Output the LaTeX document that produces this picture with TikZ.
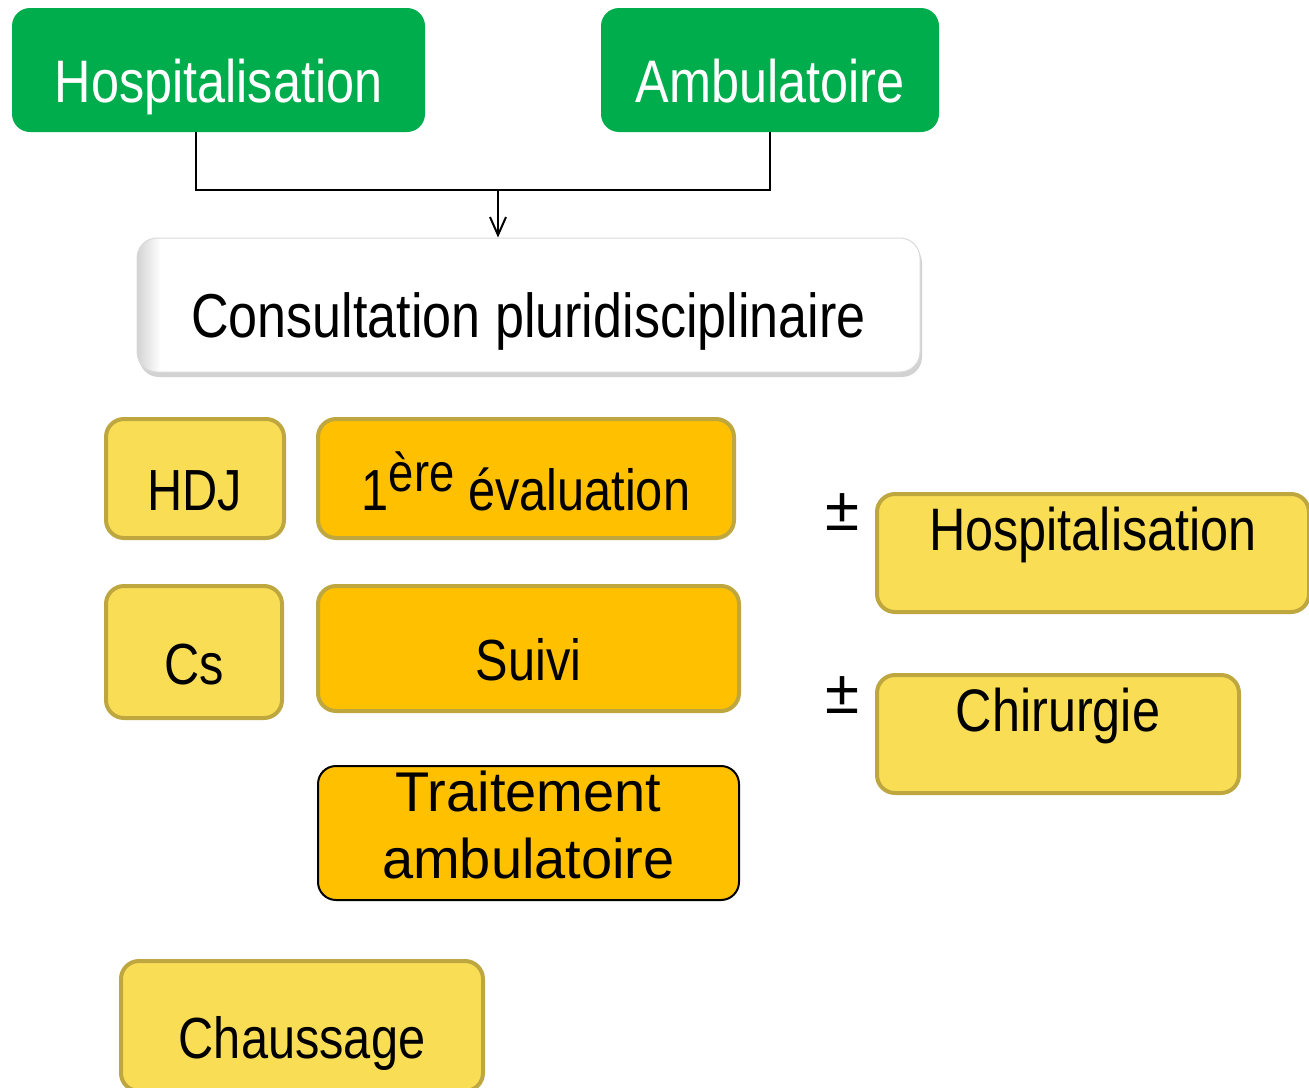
\documentclass[tikz,border=0pt]{standalone}
\usepackage{fontspec}
\setmainfont{Liberation Sans}
\newfontfamily\narrowfont[FakeStretch=0.84]{Liberation Sans}
\usetikzlibrary{arrows.meta, shadows, positioning}

\definecolor{boxgreen}{RGB}{0,173,77}
\definecolor{paleyellow}{RGB}{249,222,85}
\definecolor{deepyellow}{RGB}{255,192,0}
\definecolor{olive}{RGB}{191,167,64}
\pgfdeclarehorizontalshading{edgeshade}{100bp}{color(0bp)=(gray!35); color(25bp)=(gray!35); color(26.5bp)=(white); color(100bp)=(white)}

\begin{document}
\begin{tikzpicture}[x=1pt, y=-1pt,
    greenbox/.style={fill=boxgreen, text=white, rounded corners=18pt, inner sep=0pt,
        text height=64pt, text depth=0pt, font=\narrowfont\fontsize{60}{72}\selectfont},
    consultbox/.style={shading=edgeshade, draw=gray!30, line width=1pt, rounded corners=20pt,
        drop shadow={shadow xshift=2pt, shadow yshift=-5pt, fill=black!35},
        inner sep=0pt, text height=64pt, text depth=0pt, font=\narrowfont\fontsize{62}{74}\selectfont},
    ybox/.style={fill=paleyellow, draw=olive, line width=4pt, rounded corners=18pt, inner sep=0pt,
        text height=64pt, text depth=0pt, font=\narrowfont\fontsize{58}{70}\selectfont},
    obox/.style={ybox, fill=deepyellow},
    topbox/.style={ybox, text height=43pt, text depth=48pt, font=\narrowfont\fontsize{60}{72}\selectfont},
    traitbox/.style={fill=deepyellow, draw=black, line width=2pt, rounded corners=18pt, inner sep=0pt,
        align=center, font=\fontsize{56}{67}\selectfont},
    pmsign/.style={inner sep=0pt, font=\fontsize{62}{66}\selectfont},
    link/.style={draw=black, line width=2pt}]
\useasboundingbox (0,0) rectangle (1309,1087);

% entree
\node[greenbox, minimum width=413pt, minimum height=124pt] (hospA) at (218.5,70) {Hospitalisation};
\node[greenbox, minimum width=338pt, minimum height=124pt] (ambu) at (770,70) {Ambulatoire};
\node[consultbox, minimum width=783pt, minimum height=134pt] (consult) at (528.5,305) {Consultation pluridisciplinaire};

\coordinate (join) at (498,190);
\draw[link] ([xshift=-22.5pt]hospA.south) |- (join) -| (ambu.south);
\draw[link, -{Straight Barb[length=18pt, width=16pt]}] (join) -- (join |- consult.north);

% prise en charge
\node[ybox, minimum width=178pt, minimum height=119pt] (hdj) at (195,478.5) {HDJ};
\node[obox, minimum width=416pt, minimum height=119pt] (eval) at (526,478.5) {1\raisebox{19pt}{\fontsize{54}{54}\selectfont ère} évaluation};
\node[ybox, minimum width=176pt, minimum height=132pt] (cs) at (194,652) {Cs};
\node[obox, minimum width=421pt, minimum height=125pt] (suivi) at (528.5,648.5) {Suivi};
\node[traitbox, minimum width=421pt, minimum height=134pt] (trait) at (528.5,833) {Traitement\\ambulatoire\rule[-16pt]{0pt}{16pt}};

\node[pmsign] (pmA) at (843,512) {±};
\node[topbox, minimum width=432pt, minimum height=118pt] (hospB) at (1093,553) {Hospitalisation};
\node[pmsign] (pmB) at (843,695) {±};
\node[topbox, minimum width=362pt, minimum height=118pt] (chir) at (1058,734) {Chirurgie};

\node[ybox, minimum width=362pt, minimum height=130pt] (chaus) at (302,1026) {Chaussage};
\end{tikzpicture}
\end{document}
